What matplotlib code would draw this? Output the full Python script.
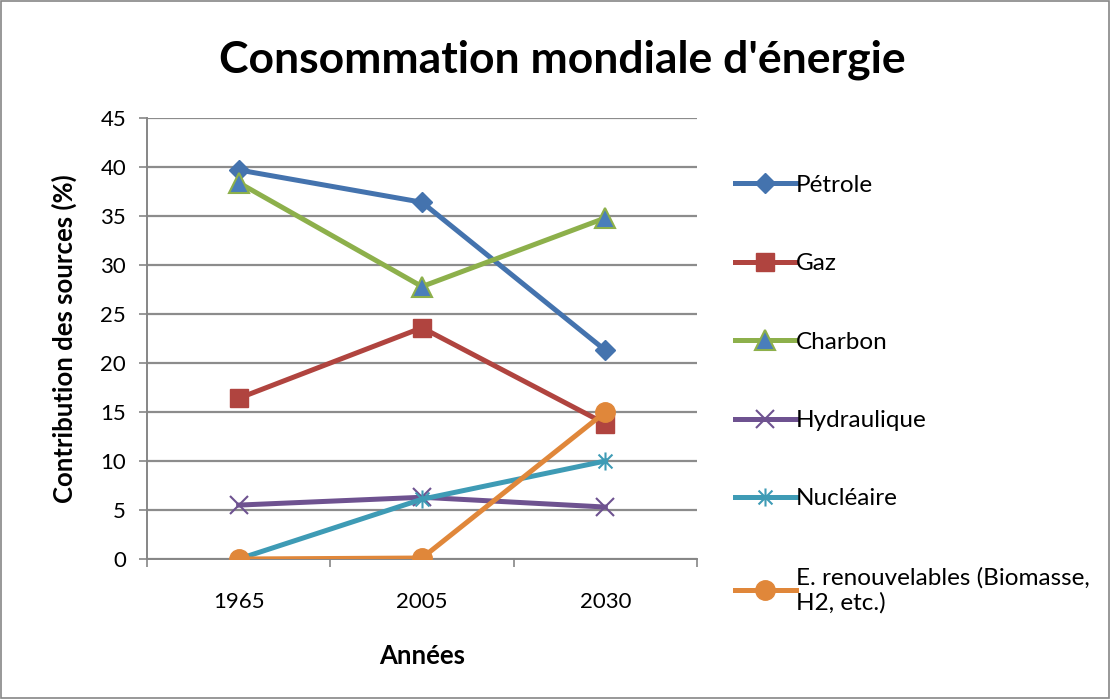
import matplotlib
matplotlib.use("Agg")
import matplotlib.pyplot as plt
import numpy as np
from matplotlib.path import Path
from matplotlib.patches import Rectangle

annees = ["1965", "2005", "2030"]
petrole = [39.7, 36.4, 21.3]
gaz = [16.4, 23.6, 13.8]
charbon = [38.4, 27.8, 34.8]
hydraulique = [5.5, 6.3, 5.3]
nucleaire = [0.0, 6.1, 10.0]
renouvelables = [0.0, 0.1, 15.0]

plt.rcParams['font.family'] = ['Lato', 'DejaVu Sans']

# asterisk marker (x + vertical bar), like the Excel one
asterisk = Path([(-1, -1), (1, 1), (-1, 1), (1, -1), (0, -1.3), (0, 1.3)],
                [Path.MOVETO, Path.LINETO, Path.MOVETO, Path.LINETO, Path.MOVETO, Path.LINETO])

fig = plt.figure(figsize=(11.11, 6.99), dpi=100)
ax = fig.add_axes([147 / 1111, 1 - 559 / 699, 550 / 1111, 441 / 699])

x = np.arange(len(annees)) + 0.5
lw = 3.6

ax.plot(x, petrole, color='#4473AE', lw=lw, marker='D', ms=10.5, label='Pétrole', zorder=3)
ax.plot(x, gaz, color='#B0443F', lw=lw, marker='s', ms=13.5, label='Gaz', zorder=3)
ax.plot(x, charbon, color='#8DB04B', lw=lw, marker='^', ms=14, mfc='#4A7EBB', mec='#8DB04B',
        mew=1.5, label='Charbon', zorder=3)
ax.plot(x, hydraulique, color='#6E5290', lw=lw, marker='x', ms=13, mew=1.5,
        label='Hydraulique', zorder=3)
ax.plot(x, nucleaire, color='#3E9BB5', lw=lw, marker=asterisk, ms=13, mew=1.5,
        label='Nucléaire', zorder=3)
ax.plot(x, renouvelables, color='#E0873A', lw=lw, marker='o', ms=14,
        label='E. renouvelables (Biomasse,\nH2, etc.)', zorder=4)

ax.set_xlim(0, 3)
ax.set_ylim(0, 45)
ax.set_yticks(np.arange(0, 46, 5))
ax.set_xticks(x)
ax.set_xticklabels(annees)
ax.set_xticks([0, 1, 2, 3], minor=True)
ax.tick_params(axis='x', which='major', length=0, pad=24, labelsize=16)
ax.tick_params(axis='x', which='minor', length=6, width=1.2, color='#868686', direction='out')
ax.tick_params(axis='y', length=6, width=1.2, color='#868686', labelsize=16, pad=9)
ax.yaxis.grid(True, color='#8C8C8C', lw=1.6)
ax.set_axisbelow(True)
for s in ['top', 'right']:
    ax.spines[s].set_visible(False)
for s in ['left', 'bottom']:
    ax.spines[s].set_color('#868686')
    ax.spines[s].set_linewidth(1.4)

ax.set_ylabel('Contribution des sources (%)', fontsize=18.5, fontweight='bold', labelpad=17)
ax.set_xlabel('Années', fontsize=18.5, fontweight='bold', labelpad=23)

fig.text(562 / 1111, 1 - 60 / 699, "Consommation mondiale d'énergie", fontsize=32,
         fontweight='bold', ha='center', va='center')

fig.legend(loc='upper left', bbox_to_anchor=(713 / 1111, 1 - 153 / 699), frameon=False,
           fontsize=17.5, labelspacing=2.36, handlelength=2.5, handletextpad=0.02)

fig.add_artist(Rectangle((0.001, 0.002), 0.997, 0.996, transform=fig.transFigure,
                         fill=False, ec='#868686', lw=1.2))

fig.savefig('out.png', dpi=100)
